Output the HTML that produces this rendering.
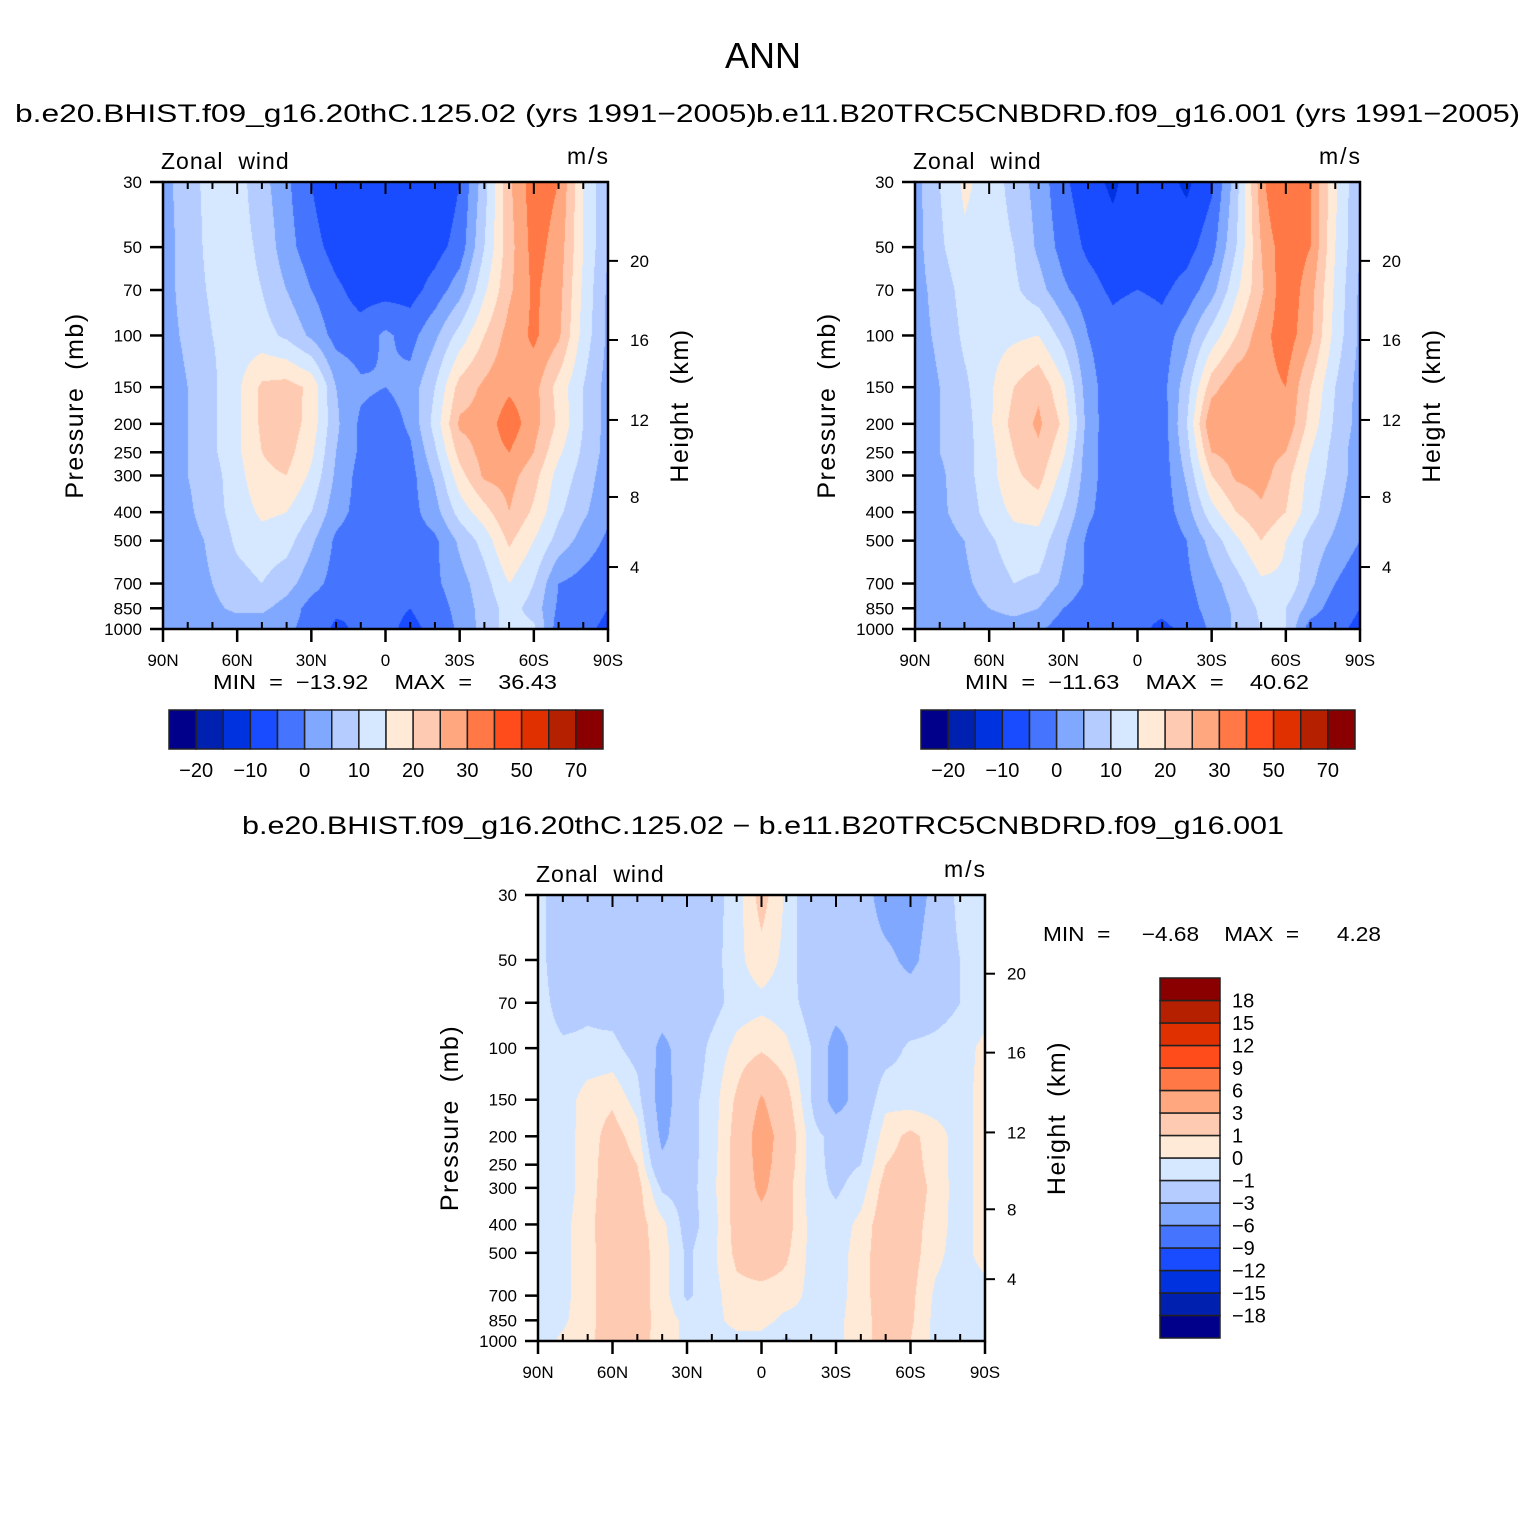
<!DOCTYPE html>
<html><head><meta charset="utf-8"><style>
html,body{margin:0;padding:0;background:#fff;}
#root{position:relative;width:1524px;height:1524px;overflow:hidden;font-family:"Liberation Sans",sans-serif;}
canvas{position:absolute;}
svg{position:absolute;left:0;top:0;}
svg text{white-space:pre;}
</style></head><body>
<div id="root">
<canvas id="c1"></canvas>
<canvas id="c2"></canvas>
<canvas id="c3"></canvas>
<svg id="ov" width="1524" height="1524"></svg>
</div>
<script>
const lats = [90,80,70,60,50,40,30,20,10,0,-10,-20,-30,-40,-50,-60,-70,-80,-90];
const pLevels = [1000,850,700,500,400,300,250,200,150,100,70,50,30];
const pTicks = [30,50,70,100,150,200,250,300,400,500,700,850,1000];
const hTicks = [20,16,12,8,4];
const hTickPressure = [55.7,103.6,194,355,615];
const xTickLabels = ["90N","60N","30N","0","30S","60S","90S"];
const colors = ["#00008a","#0020b0","#0032e0","#1a4cff","#4575ff","#80a8ff","#b4ccff","#d6e8ff","#ffead8","#ffcab2","#ffa880","#ff7845","#ff4c1a","#e03000","#b42000","#8a0000"];
const levels12 = [-20,-15,-10,-5,0,5,10,15,20,25,30,40,50,60,70];
const labels12 = ["−20","","−10","","0","","10","","20","","30","","50","","70"];
const levels3 = [-18,-15,-12,-9,-6,-3,-1,0,1,3,6,9,12,15,18];
const labels3 = ["−18","−15","−12","−9","−6","−3","−1","0","1","3","6","9","12","15","18"];
// rows: index by pLevels (1000 .. 30), columns by lats (90N .. 90S)
const u1 = [
[2,2,2,2,2,1,-2,-6,-4,-4,-6,-4,1,7,12,11,-3,-4,-6],
[2,3,4,6,6,3,-2,-4,-5,-4,-5,-3,2,7,12,8,-1,-3,-5],
[2,3,5,8,10,7,2,-2,-4,-4,-4,-1,3,8,15,10,0,-2,-4],
[2,3,6,11,13,12,6,-1,-3,-3,-3,-1,6,12,21,15,8,3,-1],
[2,4,8,12,16,15,10,2,-2,-3,-2,3,12,18,25,19,11,6,1],
[2,5,8,13,19,20,14,4,-2,-4,-2,6,18,26,27,22,13,8,2],
[2,5,9,14,20,22,16,5,-1,-3,-1,9,22,27,30,25,16,9,3],
[2,5,9,14,21,23,18,6,-1,-3,1,12,26,27,33,27,19,10,3],
[2,5,9,14,21,22,19,5,1,0,2,10,22,26,29,27,18,10,3],
[3,6,10,12,12,9,4,-2,-3,1,-2,4,12,20,27,31,26,13,4],
[3,7,11,12,10,5,0,-4,-7,-7,-7,-3,3,14,24,31,27,14,4],
[3,7,12,12,9,2,-3,-7,-8,-7,-8,-7,-3,10,23,32,28,15,5],
[3,8,12,12,7,1,-5,-10,-9,-6,-9,-10,-5,8,24,33,30,15,5]];
const u2 = [
[1,1,2,2,2,1,-3,-5,-4,-4,-6,-4,1,6,10,10,-3,-4,-6],
[1,2,3,5,7,5,0,-3,-4,-4,-4,-2,2,6,11,10,3,-3,-5],
[1,2,4,7,10,9,4,-1,-4,-4,-4,-1,3,8,14,14,6,0,-4],
[1,3,5,9,13,13,6,-1,-4,-4,-4,0,7,14,20,15,8,4,0],
[2,4,7,12,16,17,9,1,-3,-4,-3,3,13,20,24,20,12,6,1],
[2,4,8,13,19,22,13,2,-3,-4,-3,6,20,26,27,22,13,8,2],
[2,5,8,13,20,24,16,2,-3,-4,-3,8,25,27,27,25,15,8,2],
[2,5,8,14,22,26,19,3,-4,-4,-3,10,30,28,28,29,18,9,3],
[2,5,9,14,20,24,16,2,-3,-4,-2,8,23,29,28,30,20,10,3],
[3,6,11,13,14,15,8,0,-3,-1,-3,3,12,20,28,33,26,13,4],
[3,7,12,13,11,7,1,-3,-6,-5,-6,-3,3,14,24,34,27,14,4],
[3,9,14,13,10,4,-2,-6,-8,-7,-8,-7,-2,10,25,34,30,15,5],
[3,10,16,13,8,3,-4,-8,-11,-7,-8,-11,-6,8,28,40,30,16,5]];
const d3 = [
[-0.5,0.2,0.8,1.5,1.4,0.6,-0.3,-0.5,-0.3,-0.4,-1.2,-0.4,-0.3,0.6,1.5,1,-0.3,-0.8,-1],
[-0.5,-0.2,0.7,1.6,1.5,0.6,-0.3,-0.3,0.3,0.4,-0.3,-0.3,-0.3,0.6,1.5,1.2,-0.3,-0.8,-1],
[-0.5,-0.3,0.6,1.8,1.5,0.5,-1.2,-0.4,0.6,0.5,0.5,-0.3,-0.4,0.5,1.8,1.3,-0.2,-0.6,-0.5],
[-0.5,-0.3,0.6,1.8,1.5,0.5,-1.2,-0.3,1.3,2,1.2,-0.3,-0.5,0.5,1.8,1.5,0.3,-0.5,0.5],
[-0.5,-0.3,0.6,2,1.5,0.3,-1.5,-0.5,1.5,2.2,1.5,-0.3,-0.6,0.3,1.8,1.5,0.5,-0.5,0.5],
[-0.5,-0.5,0.5,1.8,1.5,-1.2,-1.5,-0.3,1.5,3.5,1.5,-0.5,-1.2,-0.5,1.5,1.8,0.6,-0.5,0.5],
[-0.5,-0.5,0.5,1.7,1,-2.5,-1.5,-0.4,1.5,3.8,1.8,-0.5,-1.4,-1,1,1.5,0.5,-0.5,0.5],
[-0.5,-0.5,0.5,1.5,0.5,-3.5,-1.5,-0.5,1.5,4,2,-0.5,-1.5,-1.5,0.5,1.3,0.5,-0.5,0.5],
[-0.5,-0.6,0.5,0.8,-0.5,-4,-1.5,-0.5,1.2,3.2,1.5,-1,-4,-2,-0.3,-0.5,-0.6,-0.5,0.5],
[-0.5,-0.8,-0.8,-0.7,-1.5,-3.5,-2,-0.7,0.3,0.8,0.2,-1,-4,-2,-1.5,-0.8,-0.7,-0.5,0.3],
[-0.5,-1.5,-1.2,-1.5,-2,-2,-2,-1.5,-0.5,-0.3,-0.5,-1.5,-2,-2,-2,-2,-1.5,-1,-0.5],
[-0.5,-2,-2,-2,-2,-2,-2,-1.5,-0.3,0.6,-0.3,-2,-2,-2,-2.5,-3.5,-2,-1,-0.5],
[-0.5,-2,-2,-2,-2,-2,-2,-1.5,-0.5,1.5,-0.2,-2,-2,-2,-4,-4,-2.5,-0.5,-0.5]];

const NS="http://www.w3.org/2000/svg";
const ov=document.getElementById('ov');
function el(tag,attrs,parent){const e=document.createElementNS(NS,tag);for(const k in attrs)e.setAttribute(k,attrs[k]);(parent||ov).appendChild(e);return e;}
function txt(s,x,y,size,anchor,parent,extra){const t=el('text',Object.assign({x:x,y:y,'font-size':size,'text-anchor':anchor||'start','font-family':'Liberation Sans, sans-serif',fill:'#000'},extra||{}),parent);t.textContent=s;return t;}

function logFrac(p){return Math.log(1000/p)/Math.log(1000/30);}
function colorIdx(v,lv){let i=0;while(i<lv.length&&v>=lv[i])i++;return i;}
function hex(c){return [parseInt(c.substr(1,2),16),parseInt(c.substr(3,2),16),parseInt(c.substr(5,2),16)];}
const rgb=colors.map(hex);
const lpRows=pLevels.map(logFrac);

function drawField(id,grid,lv,x0,y0,w,h){
  const c=document.getElementById(id);c.width=w;c.height=h;c.style.left=x0+'px';c.style.top=y0+'px';
  const ctx=c.getContext('2d');const img=ctx.createImageData(w,h);
  for(let py=0;py<h;py++){
    const f=1-(py+0.5)/h;
    let r=0;while(r<lpRows.length-2&&f>lpRows[r+1])r++;
    const t=Math.min(1,Math.max(0,(f-lpRows[r])/(lpRows[r+1]-lpRows[r])));
    for(let px=0;px<w;px++){
      const cf=(px+0.5)/w*(lats.length-1);
      let ci=Math.min(lats.length-2,Math.floor(cf));const s=cf-ci;
      const v=(grid[r][ci]*(1-s)+grid[r][ci+1]*s)*(1-t)+(grid[r+1][ci]*(1-s)+grid[r+1][ci+1]*s)*t;
      const k=rgb[colorIdx(v,lv)];const o=(py*w+px)*4;
      img.data[o]=k[0];img.data[o+1]=k[1];img.data[o+2]=k[2];img.data[o+3]=255;
    }
  }
  ctx.putImageData(img,0,0);
}

function axes(name,x0,y0,w,h){
  const g=el('g',{});
  
  
  el('rect',{x:x0,y:y0,width:w,height:h,fill:'none',stroke:'#000','stroke-width':2.5},g);
  pTicks.forEach(p=>{const y=y0+h-logFrac(p)*h;
    el('line',{x1:x0-13,x2:x0,y1:y,y2:y,stroke:'#000','stroke-width':2.5},g);
    const t=txt(String(p),x0-21,y+6,17,'end',g);
    
    });
  hTicks.forEach((hk,i)=>{const y=y0+h-logFrac(hTickPressure[i])*h;
    el('line',{x1:x0+w,x2:x0+w+10,y1:y,y2:y,stroke:'#000','stroke-width':2},g);
    const t=txt(String(hk),x0+w+22,y+6,17,'start',g);
    
    });
  for(let i=0;i<=18;i++){const x=x0+i*w/18;const major=i%3===0;
    if(major){el('line',{x1:x,x2:x,y1:y0+h,y2:y0+h+13,stroke:'#000','stroke-width':2.5},g);
      el('line',{x1:x,x2:x,y1:y0,y2:y0+12,stroke:'#000','stroke-width':2},g);
      const t=txt(xTickLabels[i/3],x,y0+h+37,17,'middle',g);
      
      }
    else{el('line',{x1:x,x2:x,y1:y0+h-7,y2:y0+h,stroke:'#000','stroke-width':2},g);
      el('line',{x1:x,x2:x,y1:y0,y2:y0+7,stroke:'#000','stroke-width':2},g);}
  }
  const a=txt('Pressure  (mb)',0,0,25,'middle',g,{transform:'translate('+(x0-80)+','+(y0+h/2)+') rotate(-90)','letter-spacing':'1.5'});
  
  
  const b=txt('Height  (km)',0,0,25,'middle',g,{transform:'translate('+(x0+w+80)+','+(y0+h/2)+') rotate(-90)','letter-spacing':'1.5'});
  
  
  const z=txt('Zonal  wind',x0-2,y0-13,23,'start',g,{'letter-spacing':'1'});
  
  
  const m=txt('m/s',x0+w+2,y0-18,23,'end',g,{'letter-spacing':'2'});
  
  
}

function hbar(name,x0,y0,w,h){
  const g=el('g',{});
  
  
  const bw=w/colors.length;
  colors.forEach((c,i)=>{const r=el('rect',{x:x0+i*bw,y:y0,width:bw,height:h,fill:c,stroke:'#222','stroke-width':1.5},g);
    
    });
  labels12.forEach((l,i)=>{if(l){const t=txt(l,x0+(i+1)*bw,y0+h+28,20,'middle',g);
    
    }});
}
function vbar(name,x0,y0,w,h){
  const g=el('g',{});
  
  
  const bh=h/colors.length;
  colors.forEach((c,i)=>{const r=el('rect',{x:x0,y:y0+h-(i+1)*bh,width:w,height:bh,fill:c,stroke:'#222','stroke-width':1.5},g);
    
    });
  labels3.forEach((l,i)=>{const t=txt(l,x0+w+12,y0+h-(i+1)*bh+7,20,'start',g);
    
    });
}

drawField('c1',u1,levels12,163,182,445,447);
drawField('c2',u2,levels12,915,182,445,447);
drawField('c3',d3,levels3,538,895,447,446);
axes('panel-1',163,182,445,447);
axes('panel-2',915,182,445,447);
axes('diff-panel',538,895,447,446);
hbar('colorbar-1',169,710,434,39);
hbar('colorbar-2',921,710,434,39);
vbar('colorbar-diff',1160,978,60,360);

let t;
t=txt('ANN',763,68,36,'middle');


t=txt('b.e20.BHIST.f09_g16.20thC.125.02 (yrs 1991−2005)',15,122,25,'start',null,{textLength:742,lengthAdjust:'spacingAndGlyphs'});


t=txt('b.e11.B20TRC5CNBDRD.f09_g16.001 (yrs 1991−2005)',756,122,25,'start',null,{textLength:764,lengthAdjust:'spacingAndGlyphs'});


t=txt('b.e20.BHIST.f09_g16.20thC.125.02 − b.e11.B20TRC5CNBDRD.f09_g16.001',242,834,25,'start',null,{textLength:1042,lengthAdjust:'spacingAndGlyphs'});


t=txt('MIN  =  −13.92    MAX  =    36.43',213,689,20,'start',null,{textLength:344,lengthAdjust:'spacingAndGlyphs'});


t=txt('MIN  =  −11.63    MAX  =    40.62',965,689,20,'start',null,{textLength:344,lengthAdjust:'spacingAndGlyphs'});


t=txt('MIN  =     −4.68    MAX  =      4.28',1043,941,20,'start',null,{textLength:338,lengthAdjust:'spacingAndGlyphs'});


</script>
</body></html>
